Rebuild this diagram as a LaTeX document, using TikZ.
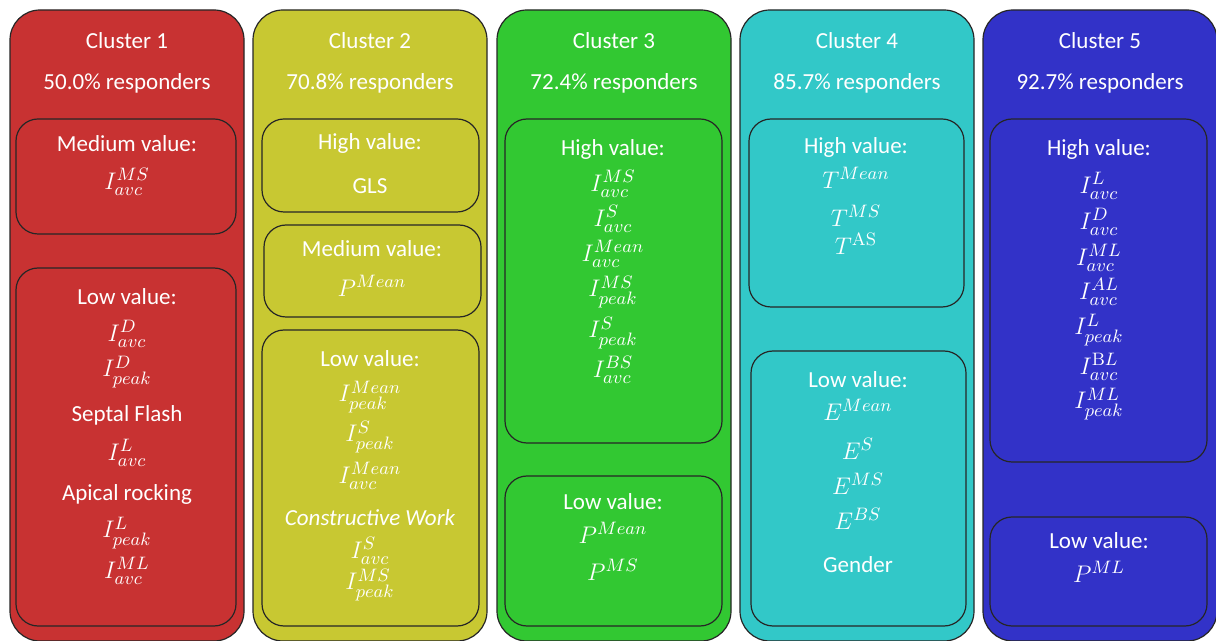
\documentclass[tikz,border=0pt]{standalone}
\usepackage{amsmath}
\usepackage[no-math]{fontspec}
\setmainfont{Carlito}

\definecolor{clred}{RGB}{200,50,50}
\definecolor{clyellow}{RGB}{200,200,50}
\definecolor{clgreen}{RGB}{50,200,50}
\definecolor{clcyan}{RGB}{50,200,200}
\definecolor{clblue}{RGB}{50,50,200}

\newcommand{\plaintxt}[1]{{\fontsize{11.5}{14}\selectfont #1}}

\tikzset{
  clusterbox/.style={draw=black!85, line width=0.6pt, rounded corners=15pt},
  valbox/.style={draw=black!85, line width=0.6pt, rounded corners=11pt},
  label/.style={text=white, font=\fontsize{11.5}{14}\selectfont, inner sep=0pt, anchor=center},
  item/.style={label, font=\fontsize{12.5}{15}\selectfont}
}

\begin{document}
\begin{tikzpicture}[x=0.5pt, y=-0.5pt]
  \useasboundingbox (0,0) rectangle (1216,641);

  % Clusters:
  \foreach \i/\cx/\col/\pct in {1/127/clred/50.0, 2/370/clyellow/70.8, 3/614/clgreen/72.4, 4/857/clcyan/85.7, 5/1100/clblue/92.7}{
    \draw[clusterbox, fill=\col] (\cx-117,10) rectangle (\cx+117,641);
    \node[label] (title\i) at (\cx,41) {Cluster \i};
    \node[label] (resp\i) at (\cx,83) {\pct\% responders};
  }

  % Cluster 1
  \draw[valbox] (16,119) rectangle (236,234);
  \node[label] (c1med) at (127,144) {Medium value:};
  \node[item] (c1med1) at (127,182) {$I^{MS}_{avc}$};
  \draw[valbox] (16,268) rectangle (236,626);
  \node[label] (c1low) at (127,297) {Low value:};
  \foreach \y/\t [count=\k] in {334/{$I^{D}_{avc}$}, 372/{$I^{D}_{peak}$}, 415/{\plaintxt{Septal Flash}}, 453/{$I^{L}_{avc}$}, 494/{\plaintxt{Apical rocking}}, 533/{$I^{L}_{peak}$}, 571/{$I^{ML}_{avc}$}}
    \node[item] (c1low\k) at (127,\y) {\t};

  % Cluster 2
  \draw[valbox] (262,119) rectangle (479,212);
  \node[label] (c2high) at (370,143) {High value:};
  \node[label] (c2high1) at (370,186) {GLS};
  \draw[valbox] (264,225) rectangle (481,317);
  \node[label] (c2med) at (372,249) {Medium value:};
  \node[item] (c2med1) at (372,286) {$P^{Mean}$};
  \draw[valbox] (262,330) rectangle (479,626);
  \node[label] (c2low) at (370,359) {Low value:};
  \foreach \y/\t [count=\k] in {397/{$I^{Mean}_{peak}$}, 437/{$I^{S}_{peak}$}, 476/{$I^{Mean}_{avc}$}, 518/{\plaintxt{\itshape Constructive Work}}, 551/{$I^{S}_{avc}$}, 585/{$I^{MS}_{peak}$}}
    \node[item] (c2low\k) at (370,\y) {\t};

  % Cluster 3
  \draw[valbox] (505,119) rectangle (722,443);
  \node[label] (c3high) at (613,149) {High value:};
  \foreach \y/\t [count=\k] in {184/{$I^{MS}_{avc}$}, 219/{$I^{S}_{avc}$}, 254/{$I^{Mean}_{avc}$}, 292/{$I^{MS}_{peak}$}, 333/{$I^{S}_{peak}$}, 370/{$I^{BS}_{avc}$}}
    \node[item] (c3high\k) at (613,\y) {\t};
  \draw[valbox] (505,476) rectangle (722,626);
  \node[label] (c3low) at (613,502) {Low value:};
  \node[item] (c3low1) at (613,533) {$P^{Mean}$};
  \node[item] (c3low2) at (613,570) {$P^{MS}$};

  % Cluster 4
  \draw[valbox] (749,119) rectangle (964,307);
  \node[label] (c4high) at (856,147) {High value:};
  \foreach \y/\t [count=\k] in {178/{$T^{Mean}$}, 216/{$T^{MS}$}, 244/{$T^{\mathrm{AS}}$}}
    \node[item] (c4high\k) at (856,\y) {\t};
  \draw[valbox] (751,351) rectangle (966,626);
  \node[label] (c4low) at (858,380) {Low value:};
  \foreach \y/\t [count=\k] in {410/{$E^{Mean}$}, 449/{$E^{S}$}, 484/{$E^{MS}$}, 519/{$E^{BS}$}, 565/{\plaintxt{Gender}}}
    \node[item] (c4low\k) at (858,\y) {\t};

  % Cluster 5
  \draw[valbox] (990,119) rectangle (1207,462);
  \node[label] (c5high) at (1099,149) {High value:};
  \foreach \y/\t [count=\k] in {186/{$I^{L}_{avc}$}, 222/{$I^{D}_{avc}$}, 258/{$I^{ML}_{avc}$}, 292/{$I^{AL}_{avc}$}, 330/{$I^{L}_{peak}$}, 367/{$I^{\mathrm{B}L}_{avc}$}, 404/{$I^{ML}_{peak}$}}
    \node[item] (c5high\k) at (1099,\y) {\t};
  \draw[valbox] (990,517) rectangle (1207,626);
  \node[label] (c5low) at (1099,541) {Low value:};
  \node[item] (c5low1) at (1099,572) {$P^{ML}$};
\end{tikzpicture}
\end{document}
